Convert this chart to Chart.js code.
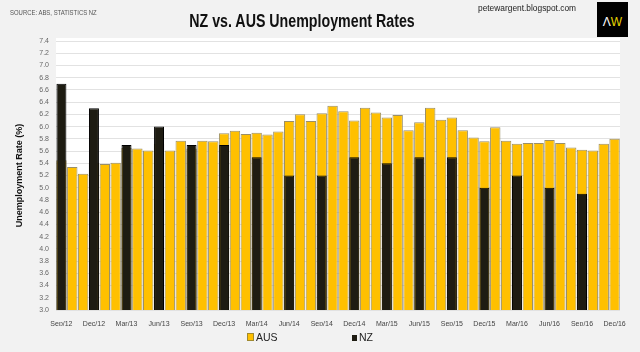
<!DOCTYPE html>
<html>
<head>
<meta charset="utf-8">
<script src="https://cdn.jsdelivr.net/npm/chart.js@4.4.1/dist/chart.umd.min.js"></script>
<style>
  html, body { margin: 0; padding: 0; background: #f2f2f2; }
  #wrap { position: relative; width: 640px; height: 352px; font-family: "Liberation Sans", Arial, sans-serif; }
  canvas { position: absolute; left: 0; top: 0; }
  .txt { position: absolute; white-space: nowrap; }
  #source { left: 10px; top: 9px; font-size: 7px; color: #555; transform: scaleX(0.85); transform-origin: left center; }
  #title { left: 0; width: 604px; top: 11px; text-align: center; font-size: 18px; font-weight: bold; color: #111; transform: scaleX(0.79); transform-origin: 302px center; }
  #site { left: 478px; top: 2px; font-size: 9.5px; color: #222; transform: scaleX(0.88); transform-origin: left center; }
  #logo { position: absolute; left: 597px; top: 2px; width: 31px; height: 35px; background: #000; color: #fff; font-size: 12px; line-height: 40px; text-align: center; }
  #logo span { color: #e6d400; }
  #legend { position: absolute; top: 331px; left: 0; width: 640px; font-size: 10.5px; color: #222; }
  .item { position: absolute; top: 0; }
  .box { display: inline-block; width: 5px; height: 6px; margin-right: 2px; vertical-align: 0px; }
</style>
</head>
<body>
<div id="wrap">
  <canvas id="chart" width="640" height="352"></canvas>
  <div class="txt" id="source">SOURCE: ABS, STATISTICS NZ</div>
  <div class="txt" id="title">NZ vs. AUS Unemployment Rates</div>
  <div class="txt" id="site">petewargent.blogspot.com</div>
  <div id="logo">&Lambda;<span>W</span></div>
  <div id="legend">
    <div class="item" style="left:247px"><span class="box" style="background:#ffc000;border:0.5px solid #a08a30"></span>AUS</div>
    <div class="item" style="left:352px"><span class="box" style="background:#1e1c12"></span>NZ</div>
  </div>
</div>
<script>
const months = [
  'Sep/12','Oct/12','Nov/12','Dec/12',
  'Jan/13','Feb/13','Mar/13','Apr/13','May/13','Jun/13','Jul/13','Aug/13','Sep/13','Oct/13','Nov/13','Dec/13',
  'Jan/14','Feb/14','Mar/14','Apr/14','May/14','Jun/14','Jul/14','Aug/14','Sep/14','Oct/14','Nov/14','Dec/14',
  'Jan/15','Feb/15','Mar/15','Apr/15','May/15','Jun/15','Jul/15','Aug/15','Sep/15','Oct/15','Nov/15','Dec/15',
  'Jan/16','Feb/16','Mar/16','Apr/16','May/16','Jun/16','Jul/16','Aug/16','Sep/16','Oct/16','Nov/16','Dec/16'
];

const ausRate = [
  5.45, 5.34, 5.23, 5.41,
  5.39, 5.41, 5.65, 5.64, 5.61, 5.72, 5.61, 5.77, 5.64, 5.77, 5.76, 5.89,
  5.93, 5.88, 5.90, 5.87, 5.92, 6.09, 6.20, 6.09, 6.22, 6.34, 6.25, 6.10,
  6.31, 6.23, 6.15, 6.19, 5.94, 6.07, 6.31, 6.11, 6.15, 5.94, 5.82, 5.76,
  5.99, 5.77, 5.72, 5.73, 5.73, 5.78, 5.73, 5.66, 5.62, 5.61, 5.72, 5.80
];

// NZ is quarterly, only on Mar/Jun/Sep/Dec
const nzRate = [
  6.7, null, null, 6.3,
  null, null, 5.7, null, null, 6.0, null, null, 5.7, null, null, 5.7,
  null, null, 5.5, null, null, 5.2, null, null, 5.2, null, null, 5.5,
  null, null, 5.4, null, null, 5.5, null, null, 5.5, null, null, 5.0,
  null, null, 5.2, null, null, 5.0, null, null, 4.9, null, null, null
];

const yMin = 3.0, yMax = 7.4, yStep = 0.2;

const plotBg = {
  id: 'plotBg',
  beforeDraw(chart) {
    const { ctx, chartArea: a } = chart;
    ctx.save();
    ctx.fillStyle = '#ffffff';
    ctx.fillRect(a.left, a.top - 3, a.right - a.left, a.bottom - a.top + 3);
    ctx.restore();
  }
};

const tickFont = { family: '"Liberation Sans", Arial, sans-serif', size: 7 };

new Chart(document.getElementById('chart'), {
  type: 'bar',
  data: {
    labels: months,
    datasets: [
      {
        label: 'NZ',
        data: nzRate,
        backgroundColor: '#1e1c12',
        borderColor: '#000000',
        borderWidth: 1,
        grouped: false,
        barPercentage: 0.92,
        categoryPercentage: 1
      },
      {
        label: 'AUS',
        data: ausRate,
        backgroundColor: '#ffc000',
        borderColor: '#9a8f68',
        borderWidth: 1,
        grouped: false,
        barPercentage: 0.96,
        categoryPercentage: 1
      }
    ]
  },
  options: {
    responsive: false,
    animation: false,
    layout: { padding: { top: 41, right: 20, bottom: 26, left: 0 } },
    plugins: {
      legend: { display: false },
      tooltip: { enabled: false }
    },
    scales: {
      x: {
        grid: { display: false },
        border: { display: false },
        ticks: {
          autoSkip: false,
          maxRotation: 0,
          padding: 2,
          color: '#444',
          font: tickFont,
          callback: function (v, i) { return i % 3 === 0 ? months[i] : ''; }
        },
        afterFit(s) { s.height = 16; }
      },
      y: {
        min: yMin,
        max: yMax,
        grid: { color: '#e2e2e2', drawTicks: false },
        border: { display: false },
        ticks: {
          stepSize: yStep,
          padding: 7,
          color: '#666',
          font: tickFont,
          callback: v => v.toFixed(1)
        },
        title: {
          display: true,
          text: 'Unemployment Rate (%)',
          color: '#111',
          font: { family: '"Liberation Sans", Arial, sans-serif', size: 9, weight: 'bold' },
          padding: { top: 14, bottom: 6 }
        },
        afterFit(s) { s.width = 56; }
      }
    }
  },
  plugins: [plotBg]
});
</script>
</body>
</html>
